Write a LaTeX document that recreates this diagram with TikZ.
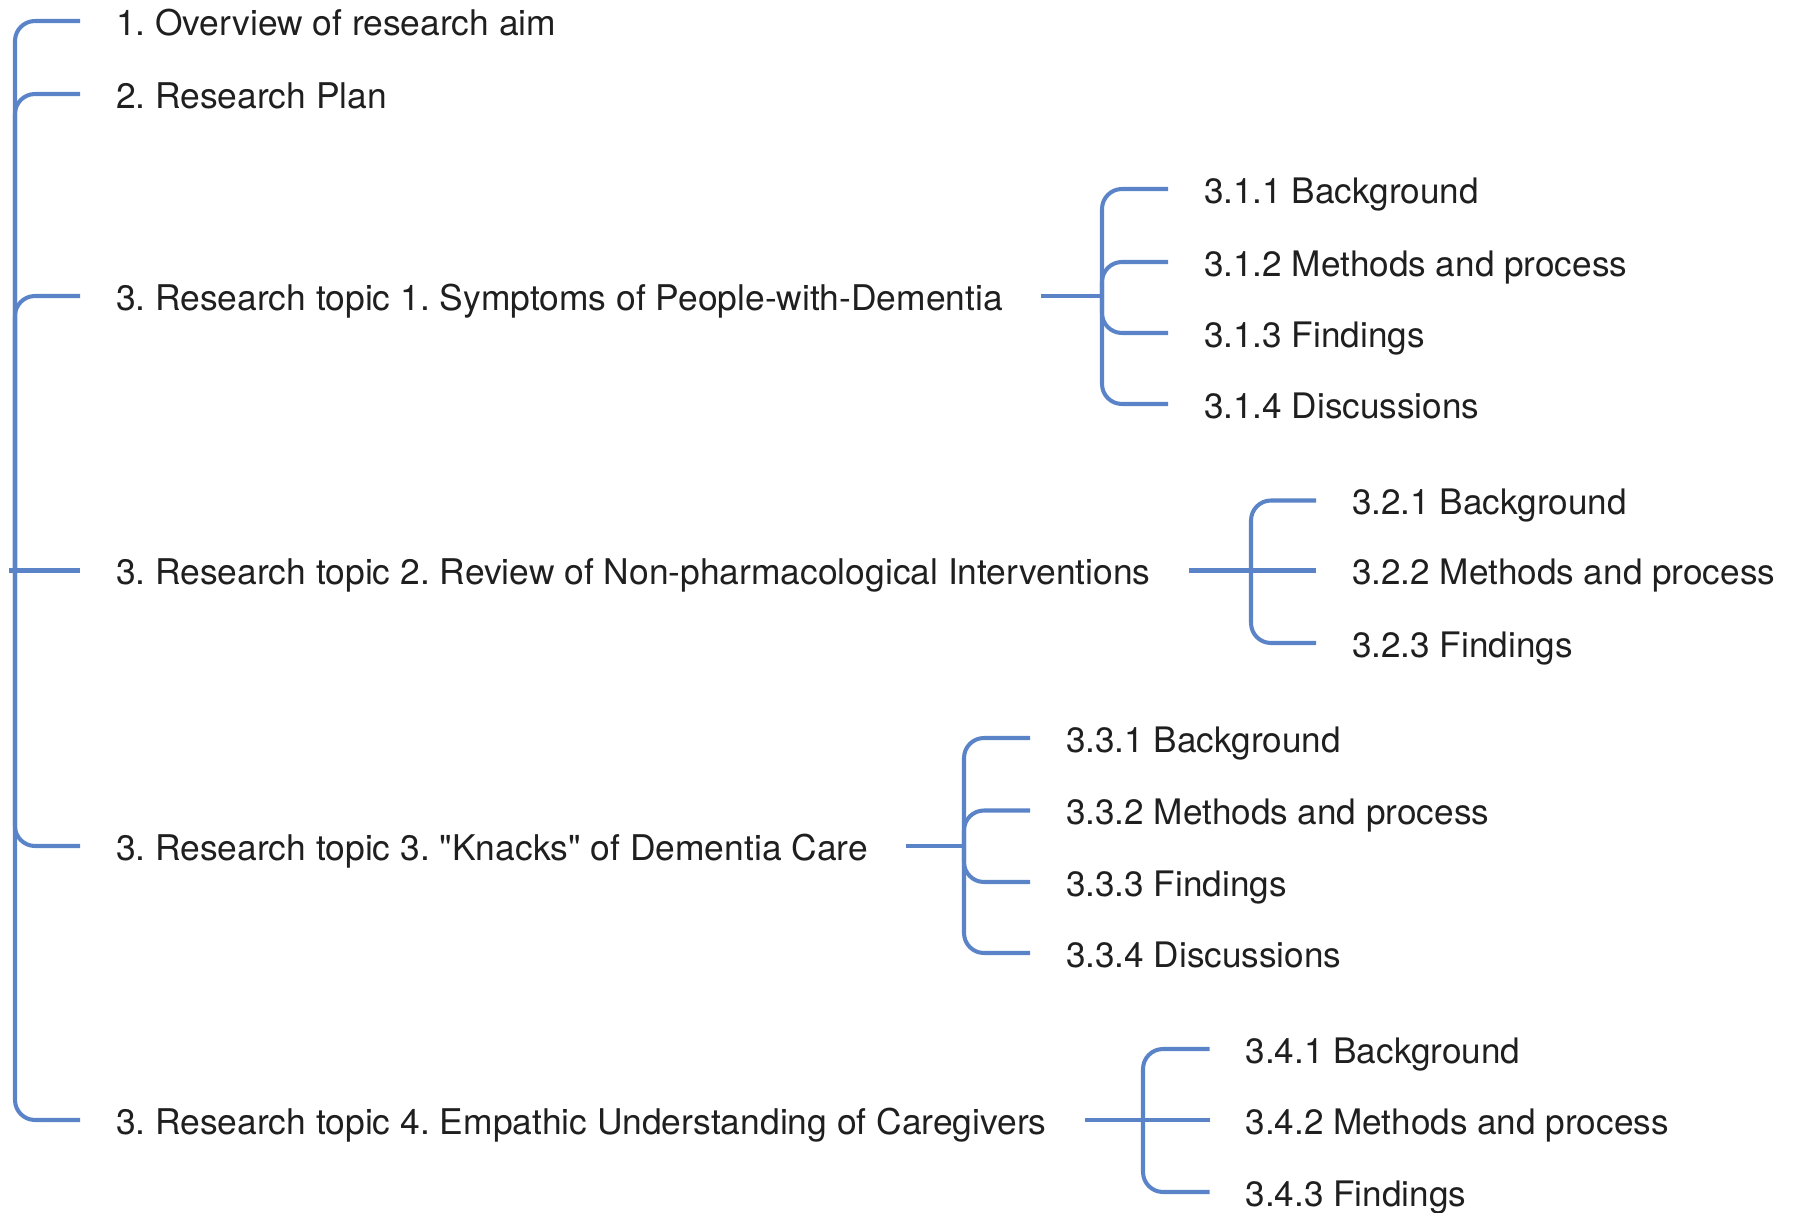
\documentclass[tikz,border=0pt]{standalone}
\usepackage{fontspec}
\setmainfont{TeX Gyre Heros}
\usetikzlibrary{calc}
\definecolor{linkblue}{HTML}{5B84C8}
\definecolor{inkgray}{HTML}{1F1F1F}
% plain straight double quote glyph
\newcommand{\straightquote}{\XeTeXglyph\XeTeXglyphindex"quotedbl"\relax}
\frenchspacing
\begin{document}
\begin{tikzpicture}[x=0.02cm,y=-0.02cm,
  label/.style={anchor=west,inner sep=0pt,outer sep=0pt,text height=16pt,text depth=0pt,
    font=\fontsize{20}{24}\selectfont,text=inkgray},
  toplabel/.style={label,font=\fontsize{20.15}{24}\selectfont},
  link/.style={draw=linkblue,line width=2.3pt,rounded corners=0.4cm}]
\useasboundingbox (0,0) rectangle (1800,1213);

% top level entries
\coordinate (root) at (9,570.5);
\coordinate (j0) at (15,570.5);
\node[toplabel] (ov)   at (116,21)    {1. Overview of research aim};
\node[toplabel] (plan) at (116,94)    {2. Research Plan};
\node[toplabel] (t1)   at (116,296)   {3. Research topic 1. Symptoms of People-with-Dementia};
\node[toplabel] (t2)   at (116,570.5) {3. Research topic 2. Review of Non-pharmacological Interventions};
\node[toplabel] (t3)   at (116,846)   {3. Research topic 3. \straightquote Knacks\straightquote{} of Dementia Care};
\node[toplabel] (t4)   at (116,1120)  {3. Research topic 4. Empathic Understanding of Caregivers};

% topic 1 sections
\coordinate (j1) at (1102,296);
\node[label] (s11) at (1204,189) {3.1.1 Background};
\node[label] (s12) at (1204,262) {3.1.2 Methods and process};
\node[label] (s13) at (1204,333) {3.1.3 Findings};
\node[label] (s14) at (1204,404) {3.1.4 Discussions};

% topic 2 sections
\coordinate (j2) at (1251,570.5);
\node[label] (s21) at (1352,500.5) {3.2.1 Background};
\node[label] (s22) at (1352,570.5) {3.2.2 Methods and process};
\node[label] (s23) at (1352,643)   {3.2.3 Findings};

% topic 3 sections
\coordinate (j3) at (964,846);
\node[label] (s31) at (1066,738)   {3.3.1 Background};
\node[label] (s32) at (1066,810.5) {3.3.2 Methods and process};
\node[label] (s33) at (1066,882)   {3.3.3 Findings};
\node[label] (s34) at (1066,953)   {3.3.4 Discussions};

% topic 4 sections
\coordinate (j4) at (1143,1120);
\node[label] (s41) at (1245.5,1049) {3.4.1 Background};
\node[label] (s42) at (1245.5,1120) {3.4.2 Methods and process};
\node[label] (s43) at (1245.5,1192) {3.4.3 Findings};

% root bracket
\draw[link] (root) -- (j0);
\foreach \c in {ov,plan,t1,t3,t4}
  \draw[link] (j0) |- ($(\c.west)+(-36,0)$);
\draw[link] (j0) -- ($(t2.west)+(-36,0)$);

% topic 1 bracket
\draw[link] ($(t1.east)+(38,0)$) -- (j1);
\foreach \c in {s11,s12,s13,s14}
  \draw[link] (j1) |- ($(\c.west)+(-36,0)$);

% topic 2 bracket
\draw[link] ($(t2.east)+(38,0)$) -- (j2);
\foreach \c in {s21,s23}
  \draw[link] (j2) |- ($(\c.west)+(-36,0)$);
\draw[link] (j2) -- ($(s22.west)+(-36,0)$);

% topic 3 bracket
\draw[link] ($(t3.east)+(38,0)$) -- (j3);
\foreach \c in {s31,s32,s33,s34}
  \draw[link] (j3) |- ($(\c.west)+(-36,0)$);

% topic 4 bracket
\draw[link] ($(t4.east)+(38,0)$) -- (j4);
\foreach \c in {s41,s43}
  \draw[link] (j4) |- ($(\c.west)+(-36,0)$);
\draw[link] (j4) -- ($(s42.west)+(-36,0)$);
\end{tikzpicture}
\end{document}
